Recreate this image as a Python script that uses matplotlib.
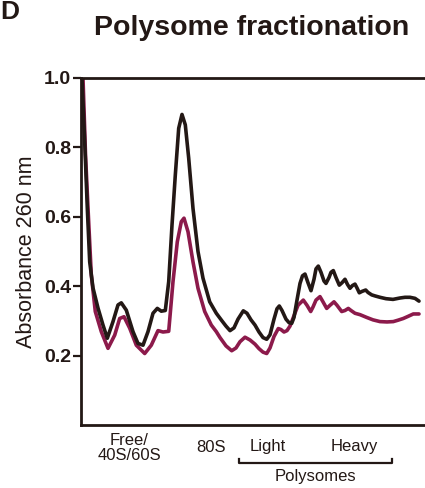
import matplotlib
matplotlib.use("Agg")
import matplotlib.pyplot as plt

plt.rcParams['font.family'] = ['Liberation Sans', 'DejaVu Sans']

# x: position along the gradient (arbitrary units), y: absorbance at 260 nm
x_black = [81, 82, 84.7, 87.3, 89.7, 93, 98, 103, 107.3, 113, 118, 121.3, 126.3, 133, 138,
           143, 148, 153, 157.3, 161.3, 165.3, 168.7, 172, 175.3, 178.7, 182, 185.3, 188.7,
           193, 198, 203, 209.7, 216.3, 222, 226, 230, 234, 238, 243.3, 247, 251, 255, 259,
           263, 266.7, 270, 274, 277, 279.3, 282, 286, 289, 291.7, 294, 297, 300, 302.5,
           305, 308, 311, 314, 316, 318.3, 321, 324, 326, 329, 331, 333.3, 336, 339.3, 342,
           345, 347.5, 350, 352.5, 355, 357, 359.3, 362, 365.7, 368, 371.7, 375, 380, 386,
           393, 400, 405, 410, 415, 419]
y_black = [1.05, 1.0, 0.816, 0.625, 0.47, 0.395, 0.337, 0.288, 0.25, 0.298, 0.346, 0.352,
           0.331, 0.269, 0.235, 0.23, 0.269, 0.322, 0.336, 0.328, 0.33, 0.413, 0.576, 0.72,
           0.855, 0.895, 0.865, 0.769, 0.624, 0.50, 0.423, 0.355, 0.322, 0.30, 0.285, 0.272,
           0.28, 0.305, 0.329, 0.322, 0.303, 0.288, 0.268, 0.252, 0.247, 0.26, 0.305, 0.335,
           0.343, 0.33, 0.305, 0.295, 0.293, 0.31, 0.36, 0.408, 0.43, 0.435, 0.41, 0.387,
           0.42, 0.45, 0.458, 0.44, 0.415, 0.408, 0.425, 0.44, 0.445, 0.425, 0.403, 0.41,
           0.42, 0.405, 0.394, 0.402, 0.406, 0.395, 0.381, 0.385, 0.389, 0.382, 0.375, 0.372,
           0.368, 0.364, 0.362, 0.366, 0.368, 0.368, 0.365, 0.357]

x_mag = [81, 83, 85.5, 88, 91.3, 95.3, 101.3, 108, 114.7, 119.7, 124, 129.7, 136.3, 144.7,
         151.3, 158, 163, 168.7, 173, 177.3, 181.3, 184, 188, 193, 198, 204.7, 211.3, 216.3,
         220, 226, 231.7, 236, 240, 245, 250, 255, 259, 263, 266.7, 270, 274, 278.3, 281,
         284, 287, 290, 294, 298, 303.3, 307, 310.7, 313, 316, 320, 323, 326.7, 330, 334,
         337, 341.7, 345, 348.3, 351, 355, 360, 366.7, 373, 380, 387, 393.3, 398, 403.3,
         408, 413.3, 419]
y_mag = [1.05, 1.0, 0.78, 0.625, 0.432, 0.327, 0.269, 0.221, 0.259, 0.307, 0.312, 0.279,
         0.23, 0.206, 0.23, 0.272, 0.268, 0.27, 0.413, 0.528, 0.586, 0.596, 0.557, 0.47,
         0.394, 0.327, 0.288, 0.269, 0.252, 0.228, 0.214, 0.222, 0.24, 0.253, 0.245, 0.233,
         0.22, 0.21, 0.206, 0.222, 0.255, 0.278, 0.275, 0.268, 0.272, 0.285, 0.315, 0.345,
         0.36, 0.345, 0.327, 0.34, 0.36, 0.37, 0.355, 0.336, 0.345, 0.355, 0.345, 0.327,
         0.33, 0.336, 0.33, 0.322, 0.318, 0.31, 0.303, 0.298, 0.297, 0.298, 0.302, 0.307,
         0.313, 0.32, 0.32]

y_ticks = [0.2, 0.4, 0.6, 0.8, 1.0]
y_ticklabels = ["0.2", "0.4", "0.6", "0.8", "1.0"]

BLACK = "#231815"
MAGENTA = "#8C1A4B"

W, H = 425, 488
fig = plt.figure(figsize=(W / 100, H / 100), dpi=100)
ax = fig.add_axes([81 / W, 1 - 425 / H, 1 - 81 / W, (425 - 78) / H])

ax.plot(x_mag, y_mag, color=MAGENTA, lw=2.6, solid_joinstyle='round',
        solid_capstyle='round', zorder=2)
ax.plot(x_black, y_black, color=BLACK, lw=2.6, solid_joinstyle='round',
        solid_capstyle='round', zorder=3)

ax.set_xlim(81, 425)
ax.set_ylim(0, 1.0)
ax.set_yticks(y_ticks)
ax.set_yticklabels(y_ticklabels, fontweight='bold', fontsize=14, color=BLACK)
ax.set_xticks([])
ax.tick_params(axis='y', direction='out', length=6, width=1.6, color=BLACK, pad=1)
for s in ['left', 'bottom', 'top']:
    ax.spines[s].set_linewidth(2)
    ax.spines[s].set_color(BLACK)
ax.spines['right'].set_visible(False)

ax.set_ylabel("Absorbance 260 nm", fontsize=15.5, color=BLACK, labelpad=5)

fig.text(252 / W, 1 - 35 / H, "Polysome fractionation", fontsize=20.5, fontweight='bold',
         color=BLACK, ha='center', va='baseline')
fig.text(0.0, 1.0, "D", fontsize=19, fontweight='bold', color=BLACK, ha='left', va='top')

fs = 12
fig.text(129 / W, 1 - 448 / H, "Free/\n40S/60S", fontsize=fs, color=BLACK, ha='center',
         va='center', linespacing=1.05)
fig.text(211 / W, 1 - 447 / H, "80S", fontsize=fs, color=BLACK, ha='center', va='center')
fig.text(267.5 / W, 1 - 446 / H, "Light", fontsize=fs, color=BLACK, ha='center', va='center')
fig.text(354 / W, 1 - 446 / H, "Heavy", fontsize=fs, color=BLACK, ha='center', va='center')
fig.text(315 / W, 1 - 477 / H, "Polysomes", fontsize=fs, color=BLACK, ha='center', va='center')

yb = 1 - 463 / H
yt = 1 - 459 / H
x0, x1 = 239 / W, 392 / W
fig.add_artist(plt.Line2D([x0, x0, x1, x1], [yt, yb, yb, yt], transform=fig.transFigure,
                          color=BLACK, lw=1.6))

fig.savefig("out.png", dpi=100)
